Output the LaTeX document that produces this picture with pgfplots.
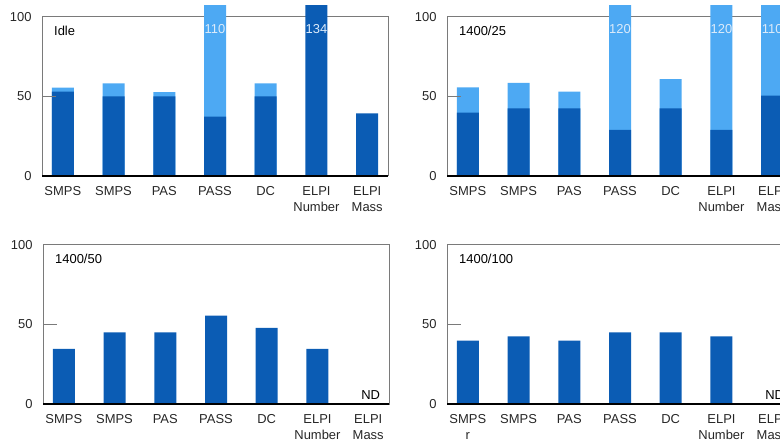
\documentclass[border=0pt]{standalone}
\usepackage{pgfplots}
\pgfplotsset{compat=1.18}
\usepackage{pgfplotstable}
\usepackage{fontspec}
\setmainfont{Liberation Sans}
\definecolor{darkb}{HTML}{0B5CB4}
\definecolor{lightb}{HTML}{4DA9F3}
\definecolor{lbltxt}{HTML}{DCEBFA}
\definecolor{framec}{HTML}{7A7A7A}

% x: 0 SMPS, 1 SMPS, 2 PAS, 3 PASS, 4 DC, 5 ELPI Number, 6 ELPI Mass
\pgfplotstableread{
x light dark
0 55.6 53.0
1 58.3 50.0
2 52.8 50.0
3 110  37.3
4 58.3 50.0
5 0    134
6 0    39.4
}\idle
\pgfplotstableread{
x light dark
0 55.8 39.8
1 58.5 42.5
2 53.0 42.5
3 120  29.0
4 61.0 42.5
5 120  29.0
6 110  50.5
}\twentyfive
\pgfplotstableread{
x val
0 34.6
1 45.1
2 45.1
3 55.6
4 47.8
5 34.6
}\fifty
\pgfplotstableread{
x val
0 39.8
1 42.6
2 39.8
3 45.1
4 45.1
5 42.6
}\hundred

\pgfplotsset{
  panel/.style={
    scale only axis, width=346bp, height=159bp, anchor=south west,
    xmin=-0.41, xmax=6.41, ymin=0, ymax=100,
    clip=false,
    xtick={0,...,6}, ytick={0,50,100},
    tick align=outside, major tick length=7bp,
    xtick style={draw=none}, ytick style={draw=none},
    axis line style={draw=framec, line width=1bp},
    tick label style={font=\fontsize{13}{16}\selectfont, text=black!85},
    xticklabel style={align=center},
    /pgf/number format/assume math mode=true,
    restrict y to domain*=0:107.5,
  },
  barbase/.style={ybar, bar width=22bp, bar shift=0pt, draw=none},
}
\newcommand{\panelextras}{%
  \draw[black, line width=1.2bp] (rel axis cs:0,0) -- (rel axis cs:1,0);
  \draw[framec, line width=1bp] (rel axis cs:0,0.5) -- ++(-7bp,0);
}

\begin{document}
\begin{tikzpicture}
\useasboundingbox (0,0) rectangle (780bp,442bp);
\clip (0,0) rectangle (780bp,442bp);

% Top-left: Idle
\begin{axis}[panel, at={(42bp,266bp)},
  xticklabels={SMPS,SMPS,PAS,PASS,DC,{ELPI\\Number},{ELPI\\Mass}}]
\addplot[barbase, fill=lightb] table[x=x,y=light] {\idle};
\addplot[barbase, fill=darkb] table[x=x,y=dark] {\idle};
\panelextras
\node[anchor=west, font=\fontsize{13}{16}\selectfont] at (rel axis cs:0.025,0.91) {Idle};
\node[text=lbltxt, font=\fontsize{13}{16}\selectfont] at (axis cs:3,92.5) {110};
\node[text=lbltxt, font=\fontsize{13}{16}\selectfont] at (axis cs:5,92.5) {134};
\end{axis}

% Top-right: 1400/25
\begin{axis}[panel, at={(447bp,266bp)},
  xticklabels={SMPS,SMPS,PAS,PASS,DC,{ELPI\\Number},{ELPI\\Mass}}]
\addplot[barbase, fill=lightb] table[x=x,y=light] {\twentyfive};
\addplot[barbase, fill=darkb] table[x=x,y=dark] {\twentyfive};
\panelextras
\node[anchor=west, font=\fontsize{13}{16}\selectfont] at (rel axis cs:0.025,0.91) {1400/25};
\node[text=lbltxt, font=\fontsize{13}{16}\selectfont] at (axis cs:3,92.5) {120};
\node[text=lbltxt, font=\fontsize{13}{16}\selectfont] at (axis cs:5,92.5) {120};
\node[text=lbltxt, font=\fontsize{13}{16}\selectfont] at (axis cs:6,92.5) {110};
\end{axis}

% Bottom-left: 1400/50
\begin{axis}[panel, at={(43bp,38bp)},
  xticklabels={SMPS,SMPS,PAS,PASS,DC,{ELPI\\Number},{ELPI\\Mass}}]
\addplot[barbase, fill=darkb] table[x=x,y=val] {\fifty};
\panelextras
\node[anchor=west, font=\fontsize{13}{16}\selectfont] at (rel axis cs:0.025,0.91) {1400/50};
\node[font=\fontsize{13}{16}\selectfont] at (axis cs:6.05,5.5) {ND};
\end{axis}

% Bottom-right: 1400/100
\begin{axis}[panel, at={(447bp,38bp)},
  xticklabels={{SMPS\\r},SMPS,PAS,PASS,DC,{ELPI\\Number},{ELPI\\Mass}}]
\addplot[barbase, fill=darkb] table[x=x,y=val] {\hundred};
\panelextras
\node[anchor=west, font=\fontsize{13}{16}\selectfont] at (rel axis cs:0.025,0.91) {1400/100};
\node[font=\fontsize{13}{16}\selectfont] at (axis cs:6.05,5.5) {ND};
\end{axis}
\end{tikzpicture}
\end{document}
